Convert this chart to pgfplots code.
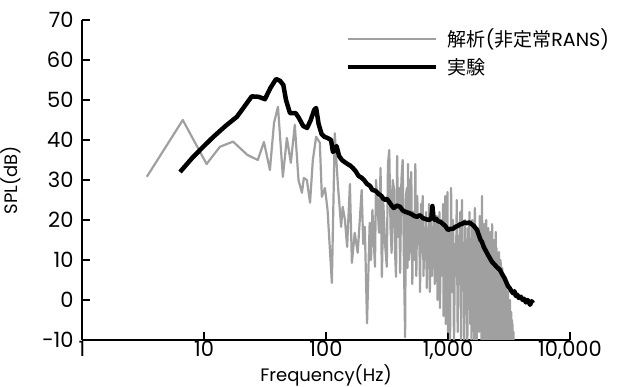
\documentclass[border=0pt]{standalone}
\usepackage{pgfplots}
\pgfplotsset{compat=1.18}
\usepackage{fontspec}
\setmainfont{Poppins}
\newfontfamily\jp{Noto Sans CJK JP}
\newcommand\ff{\fontsize{18}{21}\selectfont}
\newcommand\fl{\fontsize{19}{22}\selectfont}
\newcommand\ft{\fontsize{21}{23}\selectfont}
\definecolor{graycalc}{RGB}{160,160,160}
\begin{document}
\begin{tikzpicture}
\begin{axis}[name=ax,
  scale only axis, width=488pt, height=320pt,
  xmode=log, xmin=1, xmax=10000, ymin=-10, ymax=70,
  axis x line*=bottom, axis y line*=left,
  axis line style={line width=1.1pt},
  tick align=inside, major tick length=8pt, every tick/.style={line width=1.1pt, black},
  xminorticks=false,
  xtick={1,10,100,1000,10000}, xticklabels={1,10,100,{1,000},{10,000}},
  ytick={-10,0,10,20,30,40,50,60,70}, yticklabels={−10,0,10,20,30,40,50,60,70},
  tick label style={font=\ft},
  xticklabel style={yshift=2pt},
  yticklabel style={xshift=-5pt},
  xlabel={Frequency(Hz)}, ylabel={SPL(dB)},
  label style={font=\ff},
  xlabel style={yshift=2pt},
  ylabel style={yshift=14pt},
  legend style={at={(0.533,0.985)}, anchor=north west, draw=none, fill=none, font=\fl, row sep=6pt, column sep=8pt},
  legend cell align=left,
  legend image code/.code={\draw[#1] (0pt,0pt) -- (88pt,0pt);},
]
\addplot[graycalc, line width=2.2pt, line join=round] table {
3.4 30.8
6.7 45
10.5 34
13.5 38.3
17.3 39.6
22.6 36.3
27.6 35
31 39.5
34.7 32.5
37.5 44.3
40.4 48.3
44.3 30.8
47.8 40.5
51.5 34.3
55.5 43.8
59.5 30
63.5 26.8
65.8 30.5
69.7 30
74 24.3
78 35
83 40.8
89 39.3
92.5 25.8
98 28
103 22.5
111.7 4.3
118 41.7
125 29
133 18.3
137 23.3
143 20
149 13.3
157 29
163 9.3
172 16.8
182 11.8
196 27.5
202 14
208 18.3
217 -5.8
228 19.3
234 10
240 22.5
252 8.3
257 30
262 25.8
272 16.8
280 33
287 5.8
295 24.3
305 14
315 8.3
322 34
330 37.5
338 18
345 11.8
352 30
360 28
368 12
375 5.8
383 36
390 15.8
398 28
405 6.8
415 30
425 35
435 10
445 -9.3
452 26
460 28
465 8
470 34
480 10
485 30
490 12
500 32
510 4
520 22
530 10
540 34
550 6
560 26
570 14
580 20
590 2
600 24
610 12
620 26
630 6
640 18
650 10
660 22
670 3
680 16
690 8
700 24
710 2
720 14
730 20
740 6
750 18
760 10
770 22
780 4
790 16
800 12
810 21
820 0
830 15
840 8
850 22
860 -2
870 14
880 6
890 20
900 10
910 24
920 -4
930 16
940 4
950 26
960 -6
970 12
980 2
990 27
1000 -8
1020 18
1040 -10
1060 28
1080 2
1100 20
1120 -12
1140 14
1160 6
1180 25
1200 -8
1220 16
1240 4
1260 22
1280 -12
1300 25
1320 8
1340 12
1360 -10
1380 20
1400 2
1420 15
1440 -12
1460 18
1480 6
1500 22
1520 -6
1540 14
1560 -12
1580 20
1600 4
1620 16
1640 -10
1660 23
1680 8
1700 12
1720 -12
1740 18
1760 0
1780 15
1800 -8
1820 21
1840 5
1860 12
1880 -12
1900 26
1920 2
1940 16
1960 -10
1980 19
2000 6
2020 14
2040 -12
2060 20
2080 0
2100 13
2120 -10
2140 18
2160 4
2180 11
2200 -12
2220 17
2240 -2
2260 14
2280 -10
2300 19
2320 3
2340 12
2360 -12
2380 15
2400 0
2420 10
2440 -10
2460 17
2480 -4
2500 13
2520 -12
2540 11
2560 -2
2580 9
2600 -10
2620 12
2640 -6
2660 8
2680 -12
2700 10
2720 -4
2740 6
2760 -10
2780 8
2800 -8
2820 5
2840 -12
2860 6
2880 -6
2900 3
2920 -12
2940 5
2960 -10
2980 2
3000 -8
3020 4
3040 -12
3060 1
3080 -10
3100 2
3120 -12
3140 0
3160 -10
3180 -2
3200 -12
3220 0
3240 -8
3260 -4
3280 -12
3300 -3
3320 -14
3340 -5
3360 -12
3380 -6
3400 -14
3440 -8
3480 -15
};
\addlegendentry{{\jp 解析}({\jp 非定常}RANS)}
\addplot[black, line width=4.5pt, line join=round] table {
6.36 32
8 35.5
10 38.5
11.9 40.75
15 43.5
18.6 45.8
21 48
24.6 50.9
28 50.8
31.6 50.2
35 53
39 55.25
42 54.8
44.7 53.75
47 50
50.7 46.7
56.5 46.7
60 45.5
65 43.5
70 43
75 45
80 47.5
83 48
87 44
92 41.5
97 40.8
103 40.5
110 40
114 37
118 37.5
122 38.5
128 36
135 35
142 34.5
150 34
158 33.6
166 33
175 32.2
185 31
195 30.6
205 30
217 29
230 28.5
240 27.5
255 27.3
270 26.5
285 26
300 25
315 25.3
330 24.5
345 23.6
360 23
380 23.6
405 23.3
425 22.4
450 22
475 21.8
500 21.5
530 21
557 20.8
590 21.2
620 20.5
660 20.2
700 20
730 20.4
745 23.5
760 20.6
780 20
800 20.3
830 19.7
870 19.5
910 19
950 18.5
975 18
1000 17.5
1050 17.8
1100 17.8
1150 18.3
1200 18.5
1250 18.9
1300 19
1360 19.4
1431 19.2
1500 19.4
1550 19
1620 18.6
1680 18
1730 17.5
1800 16
1850 15
1900 14.5
1950 13.5
2000 12.8
2090 11.7
2200 10.5
2300 9.5
2400 8.9
2500 8.3
2667 7.5
2800 6.3
2900 5.5
3000 4.5
3100 3.5
3200 3
3300 2.3
3414 1.7
3500 2.2
3600 1
3700 1.3
3800 0.5
3950 0.8
4100 0
4200 0.3
4350 -0.6
4500 0
4600 -0.5
4700 -1.2
4850 -0.3
4980 -0.8
};
\addlegendentry{{\jp 実験}}
\end{axis}
\pgfresetboundingbox
\path ([shift={(-82pt,-47pt)}]ax.south west) rectangle ([shift={(47pt,20pt)}]ax.north east);
\end{tikzpicture}
\end{document}
